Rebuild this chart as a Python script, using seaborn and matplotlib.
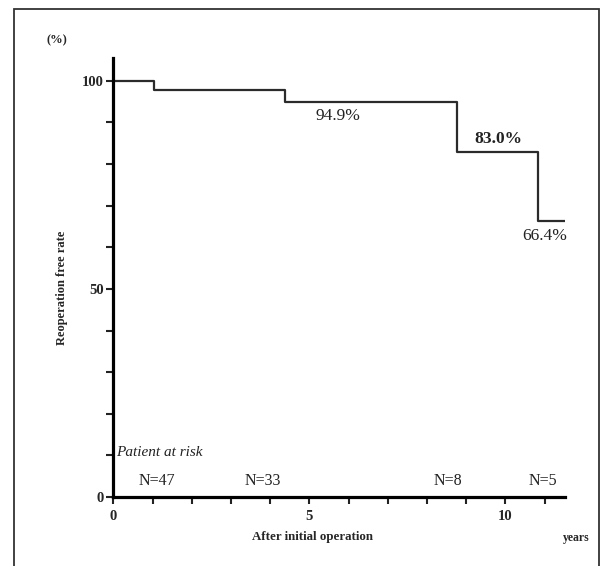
import pandas as pd
import numpy as np
import seaborn as sns
import matplotlib.pyplot as plt
from matplotlib.patches import Rectangle

# step curve (years, %)
years = [0, 1.05, 4.38, 8.77, 10.82, 11.52]
rate = [100, 97.8, 94.9, 83.0, 66.4, 66.4]

# printed survival labels
pct_labels = ['94.9%', '83.0%', '66.4%']
pct_x = [5.73, 9.81, 11.01]
pct_y = [91.6, 86.0, 62.8]

# number at risk row
risk_labels = ['N=47', 'N=33', 'N=8', 'N=5']
risk_x = [1.11, 3.82, 8.54, 10.96]

sns.set_style('white')
plt.rcParams['font.family'] = ['Liberation Serif', 'DejaVu Serif']

fig = plt.figure(figsize=(6.01, 5.66), dpi=100)
ax = fig.add_axes([113.3 / 601, 69 / 566, (565 - 113.3) / 601, (508 - 69) / 566])

df = pd.DataFrame({'years': years, 'rate': rate})
sns.lineplot(x='years', y='rate', data=df, drawstyle='steps-post', color='#2b2b2b',
             linewidth=1.6, ax=ax)

ax.set_xlim(0, 11.52)
ax.set_ylim(0, 105.5)
for s in ['top', 'right']:
    ax.spines[s].set_visible(False)
for s in ['left', 'bottom']:
    ax.spines[s].set_linewidth(2.3)
    ax.spines[s].set_color('black')

ax.set_xticks(np.arange(0, 12))
ax.set_xticklabels(['0', '', '', '', '', '5', '', '', '', '', '10', ''])
ax.set_yticks(np.arange(0, 101, 10))
ax.set_yticklabels(['0', '', '', '', '', '50', '', '', '', '', '100'])
ax.tick_params(axis='both', direction='out', length=5, width=1.5, color='#222222',
               labelsize=10.5, bottom=True, left=True)
ax.tick_params(axis='x', pad=4)
ax.tick_params(axis='y', pad=2)
for lab in ax.get_xticklabels() + ax.get_yticklabels():
    lab.set_fontweight('bold')
ax.set_xlabel('')
ax.set_ylabel('')

for t, x, y in zip(pct_labels, pct_x, pct_y):
    ax.text(x, y, t, ha='center', va='center', fontsize=12.5, color='#222222',
            fontweight='bold' if t == '83.0%' else 'normal')

ax.text(0.08, 10.8, 'Patient at risk', ha='left', va='center', fontsize=11,
        style='italic', color='#222222')
for t, x in zip(risk_labels, risk_x):
    ax.text(x, 3.8, t, ha='center', va='center', fontsize=11.5, color='#222222')

fig.text(56.7 / 601, 1 - 40.7 / 566, '(%)', ha='center', va='center', fontsize=9,
         fontweight='bold')
fig.text(62 / 601, 1 - 288 / 566, 'Reoperation free rate', ha='center', va='center',
         rotation=90, fontsize=9, fontweight='bold')
fig.text(313 / 601, 1 - 537 / 566, 'After initial operation', ha='center', va='center',
         fontsize=9.3, fontweight='bold')
fig.text(576 / 601, 1 - 537.7 / 566, 'years', ha='center', va='center', fontsize=8.5,
         fontweight='bold')

# outer frame of the figure panel
fig.patches.append(Rectangle((14 / 601, -0.05), (599 - 14) / 601, 1.05 - 9 / 566,
                             transform=fig.transFigure, fill=False,
                             edgecolor='#333333', linewidth=1.3))

fig.savefig('out.png', dpi=100)
